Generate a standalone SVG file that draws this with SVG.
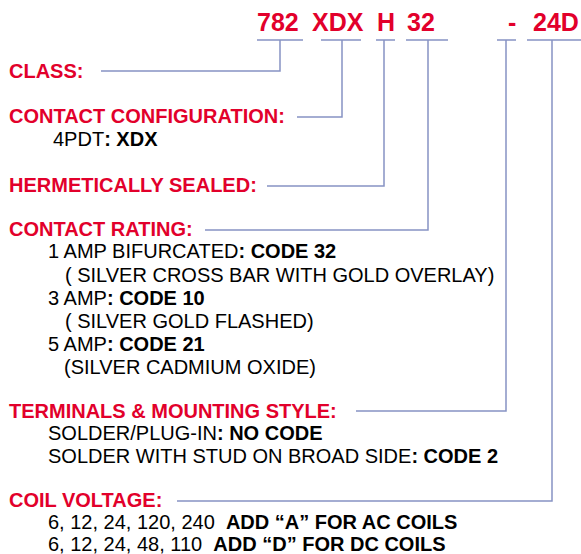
<svg xmlns="http://www.w3.org/2000/svg" width="581" height="554" viewBox="0 0 581 554">
<style>
text{font-family:"Liberation Sans",Arial,sans-serif;}
.code{font-size:25px;font-weight:bold;fill:#e2002b;}
.h{font-size:20px;font-weight:bold;fill:#e2002b;}
.b{font-size:20px;fill:#000;}
.bb{font-weight:bold;}
.ln{stroke:#8793c4;stroke-width:1.5;fill:none;}
</style>
<rect width="581" height="554" fill="#fff"/>
<g id="codes">
<text class="code" x="257" y="31">782</text>
<text class="code" x="312" y="31">XDX</text>
<text class="code" x="377" y="31">H</text>
<text class="code" x="407" y="31">32</text>
<text class="code" x="508" y="31">-</text>
<text class="code" x="533" y="31">24D</text>
</g>
<g id="connectors" class="ln">
<path d="M257 40H303M280 40V71H101"/>
<path d="M321 40H361M342 40V117H297"/>
<path d="M376 40H395M384 40V186H267"/>
<path d="M406 40H448M428 40V230H205"/>
<path d="M497 40H516M506 40V411H356"/>
<path d="M527 40H581M552 40V501H177"/>
</g>
<g id="class"><text class="h" x="9" y="78">CLASS:</text></g>
<g id="config">
<text class="h" x="9" y="123">CONTACT CONFIGURATION:</text>
<text class="b" x="53" y="146">4PDT<tspan class="bb">: XDX</tspan></text>
</g>
<g id="sealed"><text class="h" x="9" y="192">HERMETICALLY SEALED:</text></g>
<g id="rating">
<text class="h" x="9" y="236">CONTACT RATING:</text>
<text class="b" x="48" y="258">1 AMP BIFURCATED<tspan class="bb">: CODE 32</tspan></text>
<text class="b" x="65" y="282">( SILVER CROSS BAR WITH GOLD OVERLAY)</text>
<text class="b" x="48" y="305">3 AMP<tspan class="bb">: CODE 10</tspan></text>
<text class="b" x="65" y="328">( SILVER GOLD FLASHED)</text>
<text class="b" x="48" y="351">5 AMP<tspan class="bb">: CODE 21</tspan></text>
<text class="b" x="64" y="374">(SILVER CADMIUM OXIDE)</text>
</g>
<g id="terminals">
<text class="h" x="9" y="418">TERMINALS &amp; MOUNTING STYLE:</text>
<text class="b" x="48" y="440">SOLDER/PLUG-IN<tspan class="bb">: NO CODE</tspan></text>
<text class="b" x="48" y="463">SOLDER WITH STUD ON BROAD SIDE<tspan class="bb">: CODE 2</tspan></text>
</g>
<g id="coil">
<text class="h" x="9" y="507">COIL VOLTAGE:</text>
<text class="b" x="48" y="529" xml:space="preserve">6, 12, 24, 120, 240  <tspan class="bb">ADD “A” FOR AC COILS</tspan></text>
<text class="b" x="48" y="551" xml:space="preserve">6, 12, 24, 48, 110  <tspan class="bb">ADD “D” FOR DC COILS</tspan></text>
</g>
</svg>
